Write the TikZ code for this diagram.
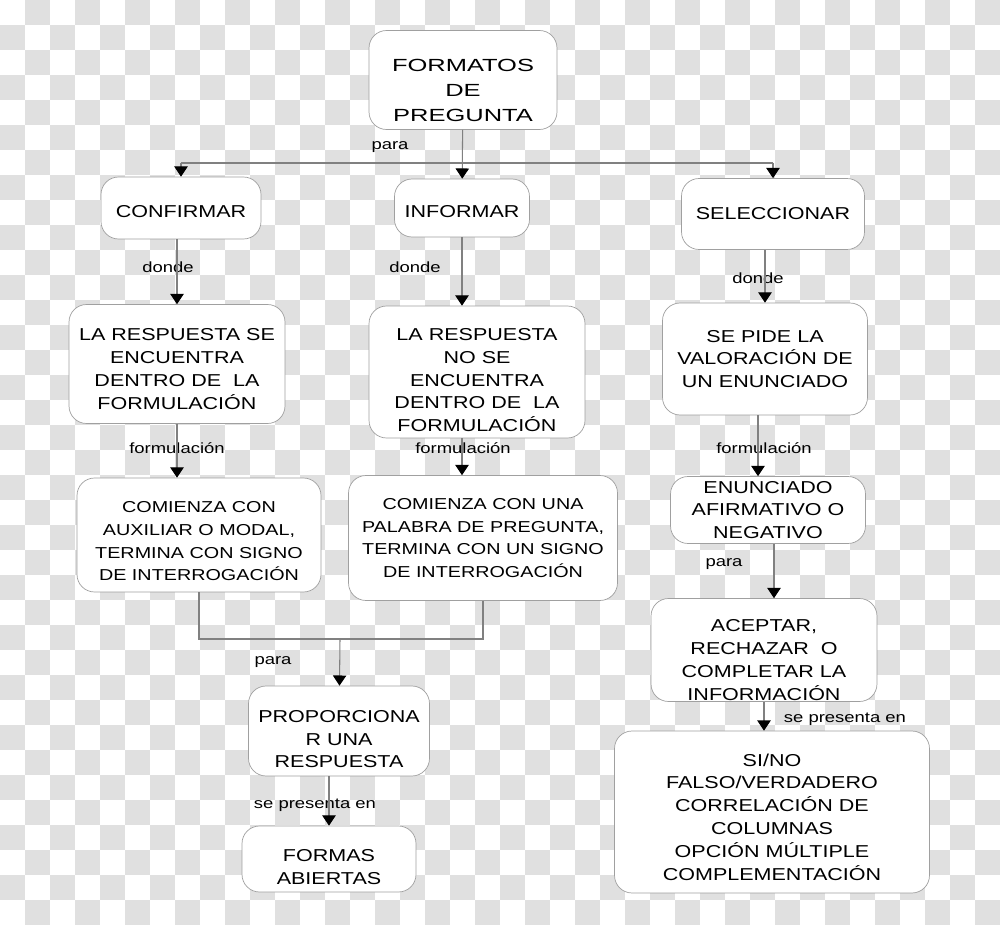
\documentclass[tikz,border=0pt]{standalone}
\usepackage{fontspec}
\newfontfamily\boxfont{Liberation Sans}[FakeStretch=1.25]
\newfontfamily\titlefont{Liberation Sans}[FakeStretch=1.45]
\usetikzlibrary{arrows.meta}
\definecolor{checkgray}{HTML}{E0E0E0}
\definecolor{linegray}{HTML}{808080}
\definecolor{boxgray}{HTML}{A0A0A0}
\newcommand\boxstrut[1]{\rule{0pt}{#1}}

\begin{document}
\begin{tikzpicture}[x=0.02cm,y=-0.02cm]
\tikzset{
  conceptbox/.style={draw=boxgray,fill=white,rounded corners=0.35cm,align=center,inner sep=2pt,font=\boxfont\fontsize{9.8}{13}\selectfont},
  smallbox/.style={conceptbox,font=\boxfont\fontsize{9}{13}\selectfont},
  titlebox/.style={conceptbox,font=\titlefont\fontsize{10}{14.2}\selectfont},
  linklabel/.style={inner sep=0pt,font=\boxfont\fontsize{8.4}{10}\selectfont},
  link/.style={draw=linegray,line width=0.6pt},
  directed/.style={link,-{Triangle[length=5.8pt,width=7.6pt,color=black]}}
}
% checkered background
\useasboundingbox (0,0) rectangle (1000,925);
\fill[white] (0,0) rectangle (1000,925);
\foreach \row in {0,...,36}{
  \foreach \col in {0,...,39}{
    \pgfmathtruncatemacro\checkodd{mod(\row+\col,2)}
    \ifnum\checkodd=1 \fill[checkgray] (25*\col,25*\row) rectangle ++(25,25); \fi
  }
}
\node[titlebox,minimum width=3.76cm,minimum height=1.98cm] (n_formatos) at (463,80) {\boxstrut{18.5pt}FORMATOS\\DE\\PREGUNTA};
\node[conceptbox,minimum width=3.2cm,minimum height=1.24cm] (n_confirmar) at (181,208) {\boxstrut{10.5pt}CONFIRMAR};
\node[conceptbox,minimum width=2.7cm,minimum height=1.16cm] (n_informar) at (462,208) {\boxstrut{10.5pt}INFORMAR};
\node[conceptbox,minimum width=3.66cm,minimum height=1.42cm] (n_seleccionar) at (773,214) {SELECCIONAR};
\node[conceptbox,minimum width=4.32cm,minimum height=2.38cm] (n_resp1) at (177,364) {\boxstrut{12.8pt}LA RESPUESTA SE\\ENCUENTRA\\DENTRO DE~ LA\\FORMULACIÓN};
\node[conceptbox,minimum width=4.32cm,minimum height=2.64cm] (n_resp2) at (477,372) {\boxstrut{16.2pt}LA RESPUESTA\\NO SE\\ENCUENTRA\\DENTRO DE~ LA\\FORMULACIÓN};
\node[conceptbox,minimum width=4.1cm,minimum height=2.24cm] (n_pide) at (765,359) {SE PIDE LA\\VALORACIÓN DE\\UN ENUNCIADO};
\node[smallbox,minimum width=4.88cm,minimum height=2.28cm] (n_auxiliar) at (199,535) {\boxstrut{13.3pt}COMIENZA CON\\AUXILIAR O MODAL,\\TERMINA CON SIGNO\\DE INTERROGACIÓN};
\node[smallbox,minimum width=5.38cm,minimum height=2.5cm] (n_palabra) at (483,538) {COMIENZA CON UNA\\PALABRA DE PREGUNTA,\\TERMINA CON UN SIGNO\\DE INTERROGACIÓN};
\node[conceptbox,minimum width=3.9cm,minimum height=1.34cm] (n_enunciado) at (768,510) {ENUNCIADO\\AFIRMATIVO O\\NEGATIVO};
\node[conceptbox,inner sep=0pt,minimum width=4.52cm,minimum height=2.06cm] (n_aceptar) at (764,650) {\boxstrut{18.6pt}ACEPTAR,\\RECHAZAR~ O\\COMPLETAR LA\\INFORMACIÓN};
\node[conceptbox,minimum width=3.62cm,minimum height=1.8cm] (n_proporciona) at (339,731) {\boxstrut{16.2pt}PROPORCIONA\\R UNA\\RESPUESTA};
\node[conceptbox,minimum width=3.48cm,minimum height=1.32cm] (n_formas) at (329,859) {\boxstrut{16.2pt}FORMAS\\ABIERTAS};
\node[conceptbox,minimum width=6.3cm,minimum height=3.24cm] (n_sino) at (772,812) {\boxstrut{12.8pt}SI/NO\\FALSO/VERDADERO\\CORRELACIÓN DE\\COLUMNAS\\OPCIÓN MÚLTIPLE\\COMPLEMENTACIÓN};
% link labels
\node[linklabel] (l_para1) at (390,147) {para};
\node[linklabel] (l_donde1) at (168,267) {donde};
\node[linklabel] (l_donde2) at (415,267) {donde};
\node[linklabel] (l_donde3) at (758,278) {donde};
\node[linklabel] (l_form1) at (177,448) {formulación};
\node[linklabel] (l_form2) at (463,448) {formulación};
\node[linklabel] (l_form3) at (764,448) {formulación};
\node[linklabel] (l_para2) at (724,564) {para};
\node[linklabel] (l_para3) at (273,662) {para};
\node[linklabel] (l_se1) at (315,805) {se presenta en};
\node[linklabel] (l_se2) at (845,719) {se presenta en};
% connectors
\coordinate (j_top) at (463,163);
\coordinate (j_join) at (340,639);
\draw[directed] (n_formatos) -- (n_informar);
\draw[link] (n_confirmar |- j_top) -- (n_seleccionar |- j_top);
\draw[directed] (n_confirmar |- j_top) -- (n_confirmar);
\draw[directed] (n_seleccionar |- j_top) -- (n_seleccionar);
\draw[directed] (n_resp1 |- n_confirmar.south) -- (n_resp1);
\draw[directed] (n_informar) -- (n_informar |- n_resp2.north);
\draw[directed] (n_pide |- n_seleccionar.south) -- (n_pide);
\draw[directed] (n_resp1) -- (n_resp1 |- n_auxiliar.north);
\draw[directed] (n_informar |- n_resp2.south) -- (n_informar |- n_palabra.north);
\draw[directed] ([xshift=-0.14cm]n_pide.south) -- ([xshift=-0.14cm]n_pide.south |- n_enunciado.north);
\draw[directed] ([xshift=0.12cm]n_enunciado.south) -- ([xshift=0.12cm]n_enunciado.south |- n_aceptar.north);
\draw[link] (n_auxiliar.south) |- (j_join) -| (n_palabra.south);
\draw[directed] (j_join) -- (n_proporciona);
\draw[directed] (n_formas |- n_proporciona.south) -- (n_formas);
\draw[directed] (n_aceptar) -- (n_aceptar |- n_sino.north);
\end{tikzpicture}
\end{document}
